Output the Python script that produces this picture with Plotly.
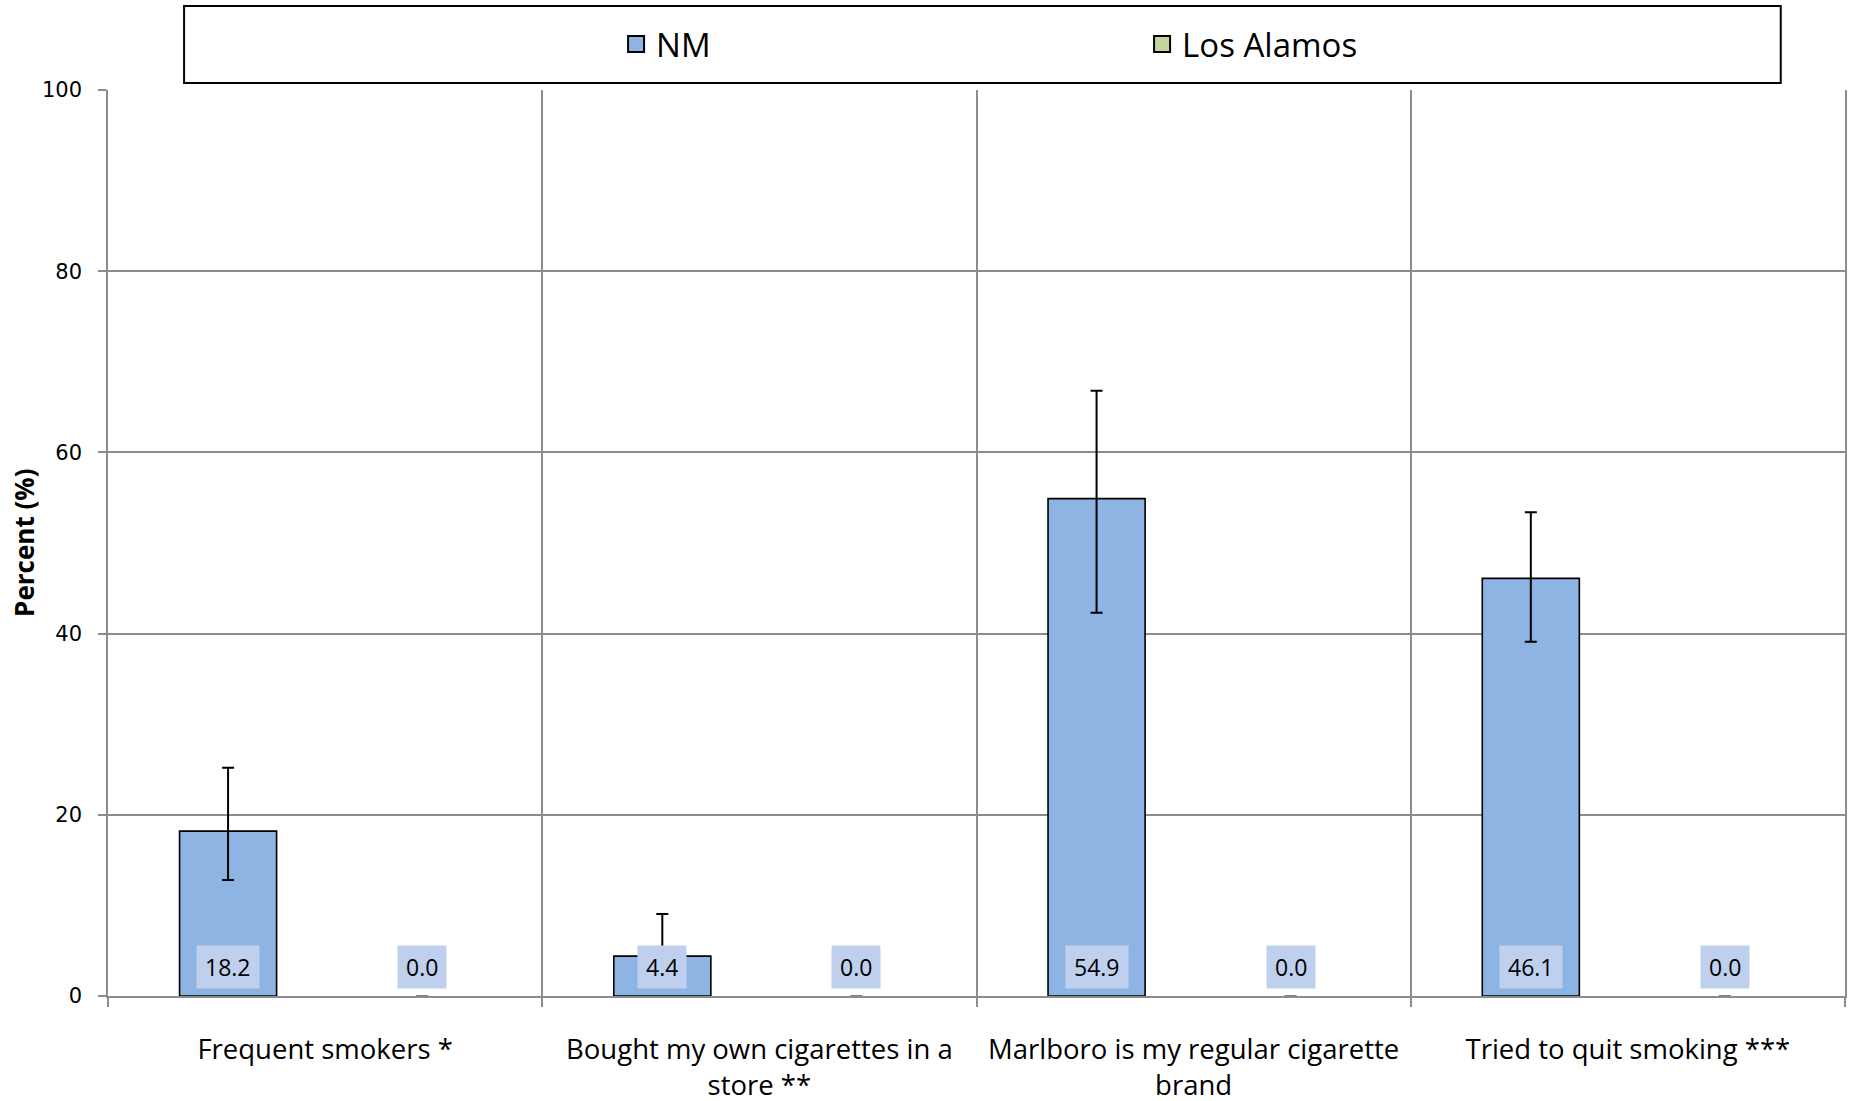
import plotly.graph_objects as go

categories = ["Frequent smokers *", "Bought my own cigarettes in a<br>store **",
              "Marlboro is my regular cigarette<br>brand", "Tried to quit smoking ***"]
nm_values = [18.2, 4.4, 54.9, 46.1]
nm_err_plus = [7.0, 4.65, 11.9, 7.3]
nm_err_minus = [5.4, 2.6, 12.6, 7.0]
la_values = [0.0, 0.0, 0.0, 0.0]
la_err_plus = [0.0, 0.0, 0.0, 0.0]
la_err_minus = [0.0, 0.0, 0.0, 0.0]
y_ticks = [0, 20, 40, 60, 80, 100]
series_names = ["NM", "Los Alamos"]

NM_COLOR = "#8eb4e3"
LA_COLOR = "#c3d69b"
GRID = "#8c8c8c"
BARGAP = 0.106
GROUPGAP = 0.5

fig = go.Figure()
fig.add_trace(go.Bar(
    name=series_names[0], x=categories, y=nm_values, showlegend=False,
    marker=dict(color=NM_COLOR, line=dict(color="black", width=1.6)),
    error_y=dict(type="data", symmetric=False, array=nm_err_plus, arrayminus=nm_err_minus,
                 color="black", thickness=2, width=6),
))
fig.add_trace(go.Bar(
    name=series_names[1], x=categories, y=la_values, showlegend=False,
    marker=dict(color=LA_COLOR, line=dict(color=GRID, width=0)),
    error_y=dict(type="data", symmetric=False, array=la_err_plus, arrayminus=la_err_minus,
                 color="#555555", thickness=1.5, width=6),
))
# legend entries (bigger square swatches)
for name, col in zip(series_names, [NM_COLOR, LA_COLOR]):
    fig.add_trace(go.Scatter(
        x=[None], y=[None], mode="markers", name=name,
        marker=dict(symbol="square", size=20, color=col, line=dict(color="black", width=2)),
    ))

# data label boxes at the bottom of each bar
offset = (1 - BARGAP) / 4
for i in range(len(categories)):
    for vals, sign in ((nm_values, -1), (la_values, 1)):
        fig.add_annotation(
            x=i + sign * offset, y=0, xref="x", yref="y",
            text=f"{vals[i]:.1f}", showarrow=False, yanchor="bottom", yshift=7,
            font=dict(family="Open Sans", size=23, color="black"),
            bgcolor="#bfd0ee", borderpad=8, height=26,
        )

# y-axis title
fig.add_annotation(
    x=-0.0484, y=0.5, xref="paper", yref="paper", text="<b>Percent (%)</b>",
    textangle=-90, showarrow=False, xanchor="center", yanchor="middle",
    font=dict(family="Open Sans", size=26, color="black"),
)

# legend frame
fig.add_shape(type="rect", xref="paper", yref="paper", x0=0.0438, x1=0.963, y0=1.0077, y1=1.0927,
              line=dict(color="black", width=2), fillcolor="rgba(0,0,0,0)")

fig.update_layout(
    width=1851, height=1101,
    paper_bgcolor="white", plot_bgcolor="white",
    margin=dict(l=108, r=6, t=90, b=105, autoexpand=False),
    barmode="group", bargap=BARGAP, bargroupgap=GROUPGAP,
    font=dict(family="Open Sans", color="black"),
    legend=dict(orientation="h", x=0.2925, xanchor="left", y=1.0508, yanchor="middle",
                entrywidth=481, entrywidthmode="pixels", itemsizing="trace",
                font=dict(family="Open Sans", size=33, color="black"),
                bgcolor="rgba(0,0,0,0)", traceorder="normal"),
    showlegend=True,
)
fig.update_xaxes(
    range=[-0.5, len(categories) - 0.5], tickson="boundaries", automargin=False,
    showgrid=True, gridcolor=GRID, gridwidth=1.5,
    showline=True, linecolor=GRID, linewidth=1.5,
    ticks="outside", ticklen=9, tickcolor=GRID, tickwidth=1.5,
    tickfont=dict(family="Open Sans", size=27.5, color="black"),
    ticklabelstandoff=28,
)
fig.update_yaxes(
    range=[0, 100], tickvals=y_ticks, automargin=False,
    showgrid=True, gridcolor=GRID, gridwidth=1.5,
    showline=True, linecolor=GRID, linewidth=1.5, mirror=True,
    ticks="outside", ticklen=8, tickcolor=GRID, tickwidth=1.5,
    tickfont=dict(family="DejaVu Sans", size=21, color="black"),
    ticklabelstandoff=12, zeroline=False,
)

fig.write_html("out.html", config={"displayModeBar": False},
               post_script="document.body.style.margin='0';document.body.style.overflow='hidden';")
